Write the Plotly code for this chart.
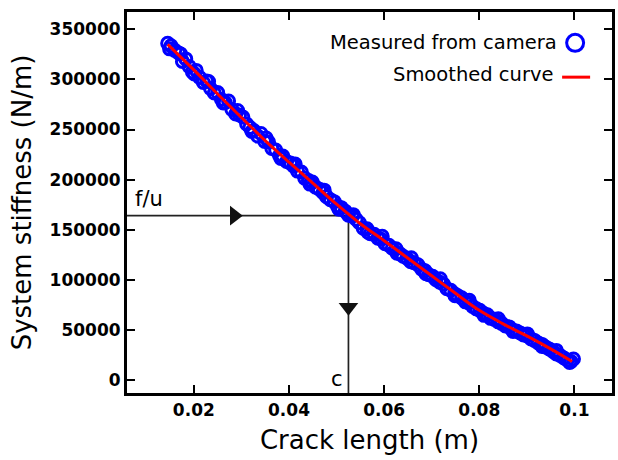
import plotly.graph_objects as go

# Measured from camera (crack length m, stiffness N/m)
meas_x = [0.0145, 0.0152, 0.0160, 0.0168, 0.0176, 0.0183, 0.0190, 0.0197, 0.0205, 0.0212,
          0.0220, 0.0227, 0.0235, 0.0243, 0.0250, 0.0258, 0.0266, 0.0273, 0.0280, 0.0288,
          0.0296, 0.0303, 0.0311, 0.0318, 0.0326, 0.0334, 0.0341, 0.0349, 0.0357, 0.0364,
          0.0372, 0.0380, 0.0387, 0.0395, 0.0403, 0.0410, 0.0418, 0.0426, 0.0433, 0.0441,
          0.0449, 0.0456, 0.0464, 0.0472, 0.0479, 0.0487, 0.0495, 0.0502, 0.0510, 0.0518,
          0.0525, 0.0533, 0.0541, 0.0548, 0.0556, 0.0564, 0.0571, 0.0579, 0.0587, 0.0594,
          0.0602, 0.0610, 0.0617, 0.0625, 0.0633, 0.0640, 0.0648, 0.0656, 0.0663, 0.0671,
          0.0679, 0.0686, 0.0694, 0.0702, 0.0709, 0.0717, 0.0725, 0.0732, 0.0740, 0.0748,
          0.0755, 0.0763, 0.0771, 0.0778, 0.0786, 0.0794, 0.0801, 0.0809, 0.0817, 0.0824,
          0.0832, 0.0840, 0.0847, 0.0855, 0.0863, 0.0870, 0.0878, 0.0886, 0.0893, 0.0901,
          0.0909, 0.0916, 0.0924, 0.0932, 0.0939, 0.0947, 0.0955, 0.0962, 0.0970, 0.0978,
          0.0985, 0.0993, 0.0998,
          0.0149, 0.0172, 0.0201, 0.0231, 0.0262, 0.0292, 0.0322, 0.0352, 0.0383, 0.0413,
          0.0444, 0.0474, 0.0505, 0.0535, 0.0566, 0.0596, 0.0627, 0.0657, 0.0688, 0.0718,
          0.0749, 0.0779, 0.0810, 0.0840, 0.0871, 0.0901, 0.0932, 0.0962, 0.0990]
meas_y = [336000, 333500, 329000, 326500, 318000, 320500, 313000, 307500, 309000, 302000,
          297000, 298500, 291000, 286500, 287000, 280000, 277000, 278500, 270000, 265500,
          264500, 262500, 255500, 252000, 249000, 243500, 246000, 238000, 237500, 231000,
          229500, 224000, 223500, 218000, 216500, 213500, 208500, 207500, 201500, 199000,
          197500, 192500, 190500, 187000, 183000, 180000, 178000, 173500, 172000, 168500,
          164500, 163500, 160500, 157000, 151500, 151000, 146000, 145500, 141500, 140500,
          136000, 134500, 131500, 131000, 126000, 123500, 121500, 118000, 117000, 115000,
          110500, 109000, 105000, 103500, 100000, 97500, 95500, 91000, 89500, 86000,
          84000, 82000, 78000, 77000, 73500, 71000, 69500, 66500, 65000, 61500,
          60500, 58000, 56500, 54000, 53000, 50000, 49000, 47000, 45000, 44000,
          41000, 39500, 37000, 35500, 33000, 31000, 28500, 26000, 24500, 22000,
          20000, 18500, 21000,
          330500, 325500, 305500, 298000, 276500, 269000, 248000, 241500, 221000, 215500,
          195500, 189500, 170500, 165000, 147500, 143500, 126500, 122000, 106000, 101000,
          84000, 79500, 64500, 61000, 48500, 46000, 33500, 29500, 17500]

# Smoothed curve
smooth_x = [0.0145, 0.02, 0.025, 0.03, 0.035, 0.04, 0.045, 0.05, 0.055, 0.06,
            0.065, 0.07, 0.075, 0.08, 0.085, 0.09, 0.095, 0.0995]
smooth_y = [335000, 309500, 285500, 262000, 239000, 217500, 196500, 175500, 156000, 139000,
            121500, 104000, 86500, 69500, 56000, 44000, 31000, 18500]

# Guide lines (f/u -> c)
guide_x = [0.00595, 0.0525, 0.0525]
guide_y = [164000, 164000, -13000]
arrow_right = (0.0285, 164000)
arrow_down = (0.0525, 72500)

x_ticks = [0.02, 0.04, 0.06, 0.08, 0.1]
x_ticklabels = ["0.02", "0.04", "0.06", "0.08", "0.1"]
y_ticks = [0, 50000, 100000, 150000, 200000, 250000, 300000, 350000]
y_ticklabels = ["0", "50000", "100000", "150000", "200000", "250000", "300000", "350000"]

FONT = "DejaVu Sans"

fig = go.Figure()
fig.add_trace(go.Scatter(x=guide_x, y=guide_y, mode="lines",
                         line=dict(color="#222222", width=1.7), showlegend=False,
                         hoverinfo="skip"))
fig.add_trace(go.Scatter(x=[arrow_right[0]], y=[arrow_right[1]], mode="markers",
                         marker=dict(symbol="triangle-right", size=17, color="#111111"),
                         showlegend=False))
fig.add_trace(go.Scatter(x=[arrow_down[0]], y=[arrow_down[1]], mode="markers",
                         marker=dict(symbol="triangle-down", size=17, color="#111111"),
                         showlegend=False))
fig.add_trace(go.Scatter(x=meas_x, y=meas_y, mode="markers", name="Measured from camera",
                         marker=dict(symbol="circle-open", size=12, color="#0000ff",
                                     line=dict(width=3)),
                         showlegend=False))
fig.add_trace(go.Scatter(x=smooth_x, y=smooth_y, mode="lines", name="Smoothed curve",
                         line=dict(color="#ff0000", width=3, shape="spline"),
                         showlegend=False))

axis_common = dict(showline=True, linecolor="black", linewidth=3, mirror="ticks",
                   ticks="inside", ticklen=8, tickwidth=2, tickcolor="black",
                   showgrid=False, zeroline=False,
                   tickfont=dict(family=FONT, size=17, color="black", weight="bold"))

fig.update_xaxes(range=[0.00595, 0.1079], tickvals=x_ticks, ticktext=x_ticklabels,
                 title=dict(text="Crack length (m)", font=dict(family=FONT, size=26, color="black"),
                            standoff=12),
                 **axis_common)
fig.update_yaxes(range=[-13000, 367300], tickvals=y_ticks, ticktext=y_ticklabels,
                 title=dict(text="System stiffness (N/m)", font=dict(family=FONT, size=26, color="black"),
                            standoff=11),
                 **axis_common)

# Legend (text on the left, symbol on the right)
fig.add_annotation(xref="paper", yref="paper", x=0.891, y=0.919, xanchor="right", yanchor="middle",
                   text="Measured from camera", showarrow=False,
                   font=dict(family=FONT, size=19.5, color="black"))
fig.add_annotation(xref="paper", yref="paper", x=0.883, y=0.837, xanchor="right", yanchor="middle",
                   text="Smoothed curve", showarrow=False,
                   font=dict(family=FONT, size=19.5, color="black"))
fig.add_shape(type="circle", xref="paper", yref="paper", xsizemode="pixel", ysizemode="pixel",
              xanchor=0.924, yanchor=0.919, x0=-8.5, x1=8.5, y0=-8.5, y1=8.5,
              line=dict(color="#0000ff", width=3))
fig.add_shape(type="line", xref="paper", yref="paper", xsizemode="pixel",
              xanchor=0.926, x0=-14, x1=14, y0=0.829, y1=0.829,
              line=dict(color="#ff0000", width=3))

# Guide labels
fig.add_annotation(x=0.0072, y=181000, xanchor="left", yanchor="middle", text="f/u",
                   showarrow=False, font=dict(family=FONT, size=21, color="black"))
fig.add_annotation(x=0.0518, y=500, xanchor="right", yanchor="middle", text="c",
                   showarrow=False, font=dict(family=FONT, size=21, color="black"))

fig.update_layout(width=618, height=460, margin=dict(l=127, r=3, t=12, b=67),
                  plot_bgcolor="white", paper_bgcolor="white", showlegend=False)

fig.write_html("out.html")
